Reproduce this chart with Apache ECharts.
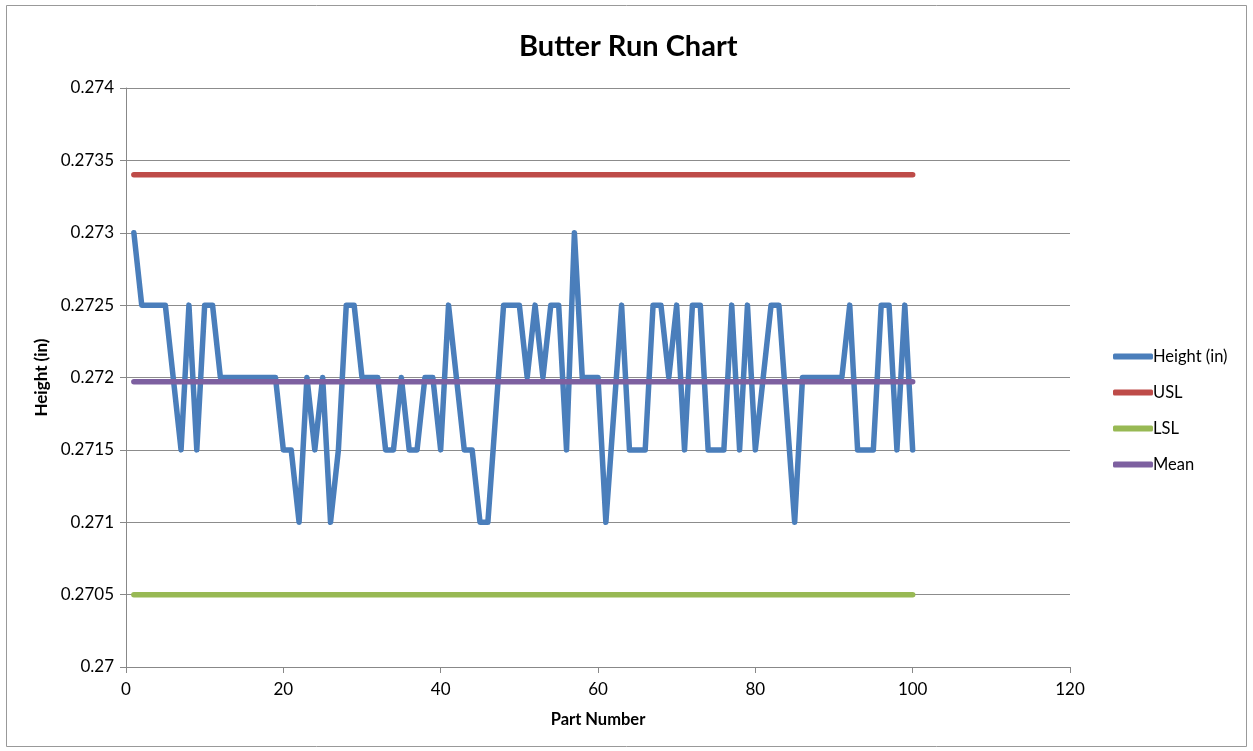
<!DOCTYPE html>
<html>
<head>
<meta charset="utf-8">
<script src="https://cdn.jsdelivr.net/npm/echarts@6/dist/echarts.min.js"></script>
<style>
html,body{margin:0;padding:0;background:#fff;}
#chart{width:1253px;height:751px;}
</style>
</head>
<body>
<div id="chart"></div>
<script>
const titleText = 'Butter Run Chart';
const xAxisName = 'Part Number';
const yAxisName = 'Height (in)';
const seriesNames = ['Height (in)', 'USL', 'LSL', 'Mean'];
const heights = [
  0.273, 0.2725, 0.2725, 0.2725, 0.2725, 0.272, 0.2715, 0.2725, 0.2715, 0.2725,
  0.2725, 0.272, 0.272, 0.272, 0.272, 0.272, 0.272, 0.272, 0.272, 0.2715,
  0.2715, 0.271, 0.272, 0.2715, 0.272, 0.271, 0.2715, 0.2725, 0.2725, 0.272,
  0.272, 0.272, 0.2715, 0.2715, 0.272, 0.2715, 0.2715, 0.272, 0.272, 0.2715,
  0.2725, 0.272, 0.2715, 0.2715, 0.271, 0.271, 0.27175, 0.2725, 0.2725, 0.2725,
  0.272, 0.2725, 0.272, 0.2725, 0.2725, 0.2715, 0.273, 0.272, 0.272, 0.272,
  0.271, 0.27175, 0.2725, 0.2715, 0.2715, 0.2715, 0.2725, 0.2725, 0.272, 0.2725,
  0.2715, 0.2725, 0.2725, 0.2715, 0.2715, 0.2715, 0.2725, 0.2715, 0.2725, 0.2715,
  0.272, 0.2725, 0.2725, 0.27175, 0.271, 0.272, 0.272, 0.272, 0.272, 0.272,
  0.272, 0.2725, 0.2715, 0.2715, 0.2715, 0.2725, 0.2725, 0.2715, 0.2725, 0.2715
];
const partNumbers = heights.map((_, i) => i + 1);
const USL = 0.2734;
const LSL = 0.2705;
const MEAN = 0.27197;
const colors = ['#4a7ebb', '#be4b48', '#98b954', '#7d60a0'];

const font = 'Lato, "Open Sans", "Liberation Sans", sans-serif';
const chart = echarts.init(document.getElementById('chart'), null, {renderer: 'canvas'});

const mk = (name, data, color) => ({
  name: name,
  type: 'line',
  data: data,
  showSymbol: false,
  symbol: 'none',
  animation: false,
  lineStyle: {color: color, width: 5.5, cap: 'round', join: 'round'},
  itemStyle: {color: color}
});

const option = {
  animation: false,
  backgroundColor: '#fff',
  textStyle: {fontFamily: font},
  title: {
    text: titleText,
    left: 514, top: 27,
    textStyle: {fontFamily: font, fontSize: 29, fontWeight: 'bold', color: '#000'}
  },
  grid: {left: 126, right: 183, top: 88, bottom: 84, containLabel: false},
  legend: {
    orient: 'vertical',
    left: 1108, top: 343,
    itemWidth: 40, itemHeight: 6,
    itemGap: 19,
    icon: 'roundRect',
    data: seriesNames,
    textStyle: {fontFamily: font, fontSize: 16.5, color: '#000', padding: [0,0,0,-5], lineHeight: 17}
  },
  xAxis: {
    type: 'value',
    min: 0, max: 120, interval: 20,
    name: xAxisName,
    nameLocation: 'middle',
    nameGap: 44,
    nameTextStyle: {fontFamily: font, fontSize: 16.5, fontWeight: 'bold', color: '#000'},
    axisLine: {show: true, lineStyle: {color: '#888', width: 1}},
    axisTick: {show: true, length: 6, inside: false, lineStyle: {color: '#888'}},
    axisLabel: {fontFamily: font, fontSize: 17, color: '#000', margin: 14},
    splitLine: {show: false}
  },
  yAxis: {
    type: 'value',
    min: 0.27, max: 0.274, interval: 0.0005,
    name: yAxisName,
    nameLocation: 'middle',
    nameGap: 67,
    nameRotate: 90,
    nameTextStyle: {fontFamily: font, fontSize: 17, fontWeight: 'bold', color: '#000'},
    axisLine: {show: true, lineStyle: {color: '#888', width: 1}},
    axisTick: {show: true, length: 6, inside: false, lineStyle: {color: '#888'}},
    axisLabel: {fontFamily: font, fontSize: 17, color: '#000', margin: 12,
      formatter: v => String(+v.toFixed(4))},
    splitLine: {show: true, lineStyle: {color: '#8c8c8c', width: 1}}
  },
  series: [
    mk(seriesNames[0], partNumbers.map((p, i) => [p, heights[i]]), colors[0]),
    mk(seriesNames[1], partNumbers.map(p => [p, USL]), colors[1]),
    mk(seriesNames[2], partNumbers.map(p => [p, LSL]), colors[2]),
    mk(seriesNames[3], partNumbers.map(p => [p, MEAN]), colors[3])
  ],
  graphic: [{
    type: 'rect',
    shape: {x: 6.5, y: 5.5, width: 1240, height: 741},
    style: {fill: 'none', stroke: '#999', lineWidth: 1},
    silent: true, z: -1
  }]
};
chart.setOption(option);
</script>
</body>
</html>
